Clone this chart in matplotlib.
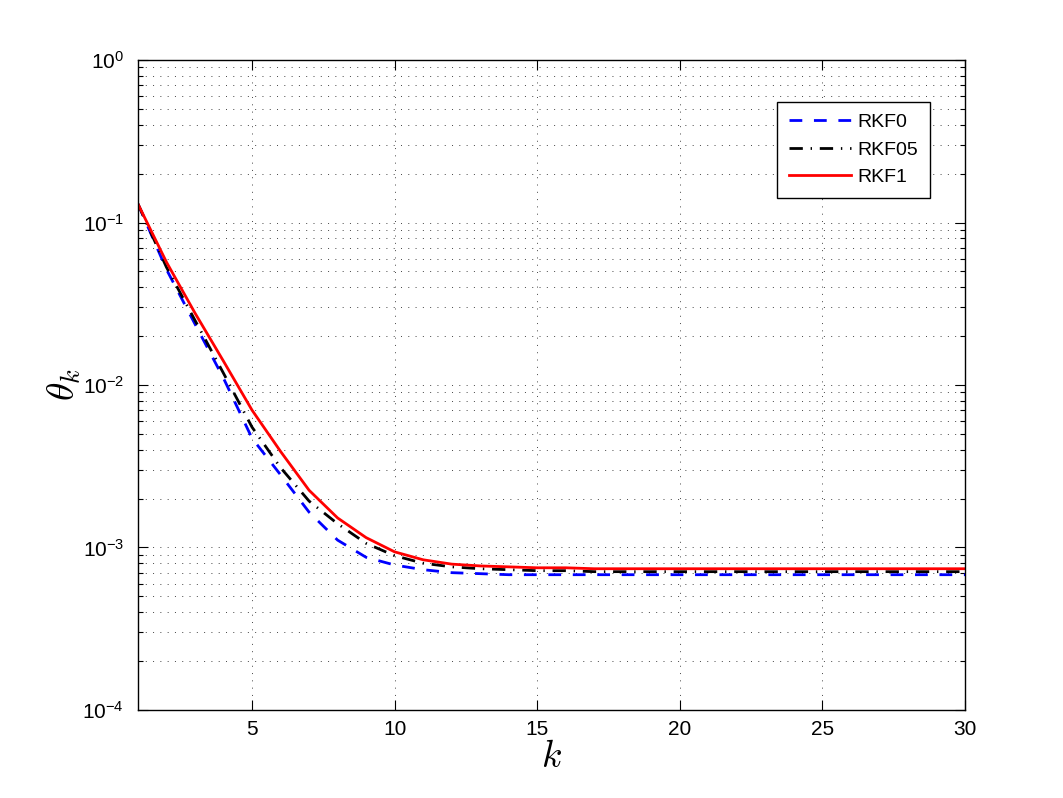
import numpy as np
import matplotlib
matplotlib.use("Agg")
import matplotlib.pyplot as plt
from matplotlib.ticker import LogLocator, FixedLocator, NullFormatter

plt.rcParams['font.family'] = ['Liberation Sans', 'DejaVu Sans']
plt.rcParams['mathtext.fontset'] = 'cm'

k = list(range(1, 31))
rkf0 = [0.13, 0.0514, 0.0237, 0.0110, 0.0047, 0.0028, 0.00165, 0.00111, 0.00087, 0.00078,
        0.00073, 0.00070, 0.00069, 0.00068, 0.00068, 0.00068, 0.00068, 0.00068, 0.00068, 0.00068,
        0.00068, 0.00068, 0.00068, 0.00068, 0.00068, 0.00068, 0.00068, 0.00068, 0.00068, 0.00068]
rkf05 = [0.13, 0.053, 0.025, 0.0118, 0.0055, 0.0031, 0.00193, 0.00140, 0.00106, 0.00089,
         0.00080, 0.00076, 0.00074, 0.00073, 0.00072, 0.00072, 0.00071, 0.00071, 0.00071, 0.00071,
         0.00071, 0.00071, 0.00071, 0.00071, 0.00071, 0.00071, 0.00071, 0.00071, 0.00071, 0.00071]
rkf1 = [0.13, 0.057, 0.0277, 0.0140, 0.0070, 0.0039, 0.00225, 0.00152, 0.00115, 0.00094,
        0.00084, 0.00079, 0.00077, 0.00076, 0.00075, 0.00075, 0.00074, 0.00074, 0.00074, 0.00074,
        0.00074, 0.00074, 0.00074, 0.00074, 0.00074, 0.00074, 0.00074, 0.00074, 0.00074, 0.00074]
xticks = [5, 10, 15, 20, 25, 30]

fig = plt.figure(figsize=(10.63, 7.98), dpi=100)
ax = fig.add_axes([0.1298, 0.1103, 0.778, 0.8145])

ax.semilogy(k, rkf0, color='#0000ff', linestyle=(0, (4.6, 4.2)), linewidth=2.0, label='RKF0')
ax.semilogy(k, rkf05, color='black', linestyle=(0, (4.8, 2.8, 0.5, 2.8)), linewidth=2.0, label='RKF05')
ax.semilogy(k, rkf1, color='#ff0000', linestyle='-', linewidth=2.0, label='RKF1')

ax.set_xlim(1, 30)
ax.set_ylim(1e-4, 1e0)
ax.xaxis.set_major_locator(FixedLocator(xticks))
ax.yaxis.set_major_locator(LogLocator(base=10, numticks=10))
ax.yaxis.set_minor_locator(LogLocator(base=10, subs=np.arange(2, 10), numticks=20))
ax.yaxis.set_minor_formatter(NullFormatter())

gstyle = dict(linestyle=(0, (1, 6.5)), color='#444444', linewidth=0.7)
ax.grid(True, which='major', axis='both', **gstyle)
ax.grid(True, which='minor', axis='y', **gstyle)

ax.tick_params(which='both', direction='in', top=True, right=True, labelsize=15, width=0.8)
ax.tick_params(which='major', length=7)
ax.tick_params(which='minor', length=3.5)
ax.tick_params(axis='y', which='major', pad=10)
ax.tick_params(axis='x', which='major', pad=7)
for s in ax.spines.values():
    s.set_linewidth(1.0)

ax.set_xlabel(r'$k$', fontsize=27, labelpad=0)
ax.set_ylabel(r'$\theta_k$', fontsize=27)
ax.yaxis.set_label_coords(-0.066, 0.5)

leg = ax.legend(loc='upper right', bbox_to_anchor=(0.9577, 0.9354), borderaxespad=0,
                fontsize=14, frameon=True, fancybox=False, edgecolor='black', framealpha=1,
                handlelength=3.2, handletextpad=0.35, borderpad=0.6, labelspacing=0.5)
leg.get_frame().set_linewidth(1.0)

fig.savefig('out.png', dpi=100)
